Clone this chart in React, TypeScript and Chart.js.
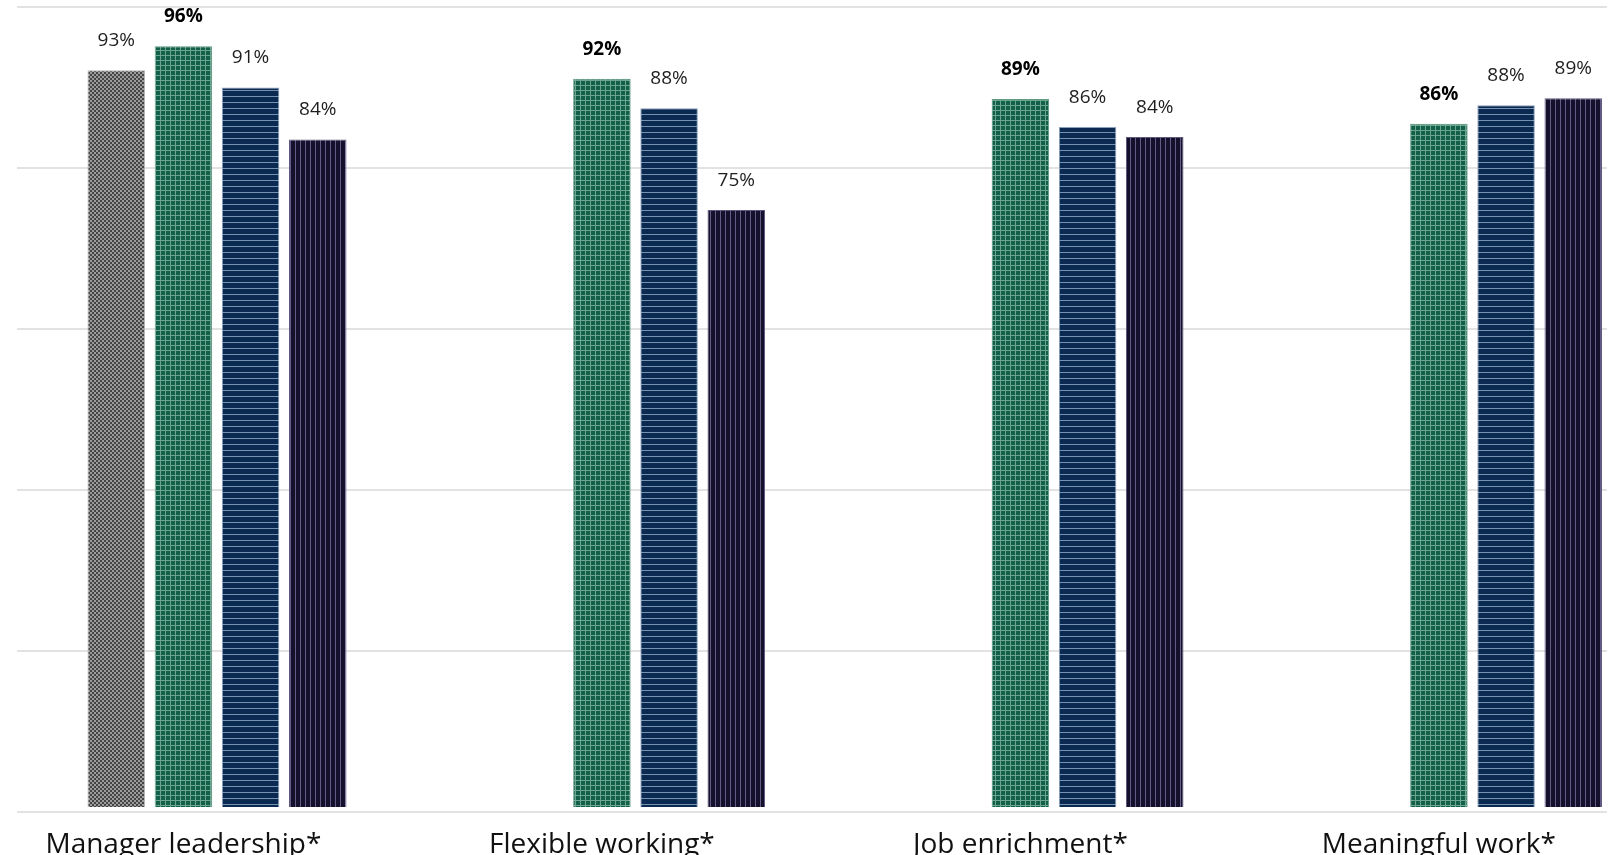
import React, { useEffect, useRef } from "react";
import { Chart, registerables } from "chart.js";

Chart.register(...registerables);

const categories = ["Manager leadership*", "Flexible working*", "Job enrichment*", "Meaningful work*"];
const seriesNames = ["Comparator", "Group A", "Group B", "Group C"];
const greyValues = [92.9, null, null, null];
const greenValues = [96.0, 91.8, 89.2, 86.0];
const blueValues = [90.7, 88.0, 85.6, 88.4];
const navyValues = [84.0, 74.9, 84.3, 89.3];
const boldSeries = [false, true, false, false];

function makePattern(kind: string): CanvasPattern | string {
  const c = document.createElement("canvas");
  const ctx = c.getContext("2d")!;
  if (kind === "grey") {
    c.width = 4; c.height = 4;
    ctx.fillStyle = "#9c9c9c"; ctx.fillRect(0, 0, 4, 4);
    ctx.fillStyle = "#444444"; ctx.fillRect(0, 0, 2, 2); ctx.fillRect(2, 2, 2, 2);
  } else if (kind === "green") {
    c.width = 5; c.height = 5;
    ctx.fillStyle = "#13604a"; ctx.fillRect(0, 0, 5, 5);
    ctx.fillStyle = "#6da68e"; ctx.fillRect(0, 0, 5, 1); ctx.fillRect(0, 0, 1, 5);
  } else if (kind === "blue") {
    c.width = 6; c.height = 6;
    ctx.fillStyle = "#0b2a52"; ctx.fillRect(0, 0, 6, 6);
    ctx.fillStyle = "#7690b0"; ctx.fillRect(0, 0, 6, 1);
  } else {
    c.width = 5; c.height = 5;
    ctx.fillStyle = "#15112d"; ctx.fillRect(0, 0, 5, 5);
    ctx.fillStyle = "#615d84"; ctx.fillRect(0, 0, 1, 5);
  }
  return ctx.createPattern(c, "repeat") || "#888";
}

const labelPlugin = {
  id: "valueLabels",
  afterDatasetsDraw(chart: any) {
    const ctx = chart.ctx;
    ctx.save();
    ctx.textAlign = "center";
    ctx.textBaseline = "alphabetic";
    chart.data.datasets.forEach((ds: any, di: number) => {
      const meta = chart.getDatasetMeta(di);
      meta.data.forEach((el: any, i: number) => {
        const v = ds.data[i]?.y;
        if (v === null || v === undefined) return;
        ctx.font = (boldSeries[di] ? "bold " : "") + "19px 'Open Sans'";
        ctx.fillStyle = boldSeries[di] ? "#000000" : "#1e1e1e";
        ctx.fillText(Math.round(v) + "%", el.x, el.y - 24);
      });
    });
    ctx.restore();
  },
};

export default function App() {
  const ref = useRef<HTMLCanvasElement>(null);
  useEffect(() => {
    if (!ref.current) return;
    const toPoints = (arr: (number | null)[]) => arr.map((v, i) => ({ x: i, y: v }));
    const kinds = ["grey", "green", "blue", "navy"];
    const borders = ["#b5b5b5", "#5f9981", "#8aa0bd", "#5d5980"];
    const values = [greyValues, greenValues, blueValues, navyValues];
    const chart = new Chart(ref.current, {
      type: "bar",
      data: {
        datasets: values.map((vals, k) => ({
          label: seriesNames[k],
          data: toPoints(vals) as any,
          backgroundColor: makePattern(kinds[k]) as any,
          borderColor: borders[k],
          borderWidth: 1,
          base: -2.04,
          categoryPercentage: 0.642,
          barPercentage: 0.856,
        })),
      },
      options: {
        animation: false,
        responsive: false,
        devicePixelRatio: 1,
        layout: { padding: { left: 17, right: 4, top: 7, bottom: 0 } },
        plugins: { legend: { display: false }, tooltip: { enabled: false } },
        scales: {
          x: {
            type: "linear",
            offset: false,
            min: -0.4779,
            max: 3.3214,
            grid: { display: false, drawTicks: false, offset: false },
            border: { display: false },
            afterBuildTicks: (scale: any) => {
              scale.ticks = categories.map((_, i) => ({ value: i }));
            },
            afterFit: (scale: any) => {
              scale.height = 43;
            },
            ticks: {
              autoSkip: false,
              maxRotation: 0,
              padding: 16,
              labelOffset: -33.6,
              color: "#111111",
              font: { family: "'Open Sans'", size: 28 },
              callback: (v: any) => (Number.isInteger(v) ? categories[v] : ""),
            },
          },
          y: {
            type: "linear",
            min: -2.68,
            max: 101.06,
            afterBuildTicks: (scale: any) => {
              const mn = -2.68, mx = 101.06;
              const t = [];
              for (let i = 0; i <= 5; i++) t.push({ value: mn + ((mx - mn) * i) / 5 });
              scale.ticks = t;
            },
            grid: { color: "#e2e2e2", lineWidth: 2, drawTicks: false },
            border: { display: false },
            ticks: { display: false },
          },
        },
      },
      plugins: [labelPlugin],
    });
    return () => chart.destroy();
  }, []);
  return (
    <div style={{ position: "absolute", left: 0, top: 0, width: 1611, height: 855, overflow: "hidden", background: "#fff" }}>
      <canvas ref={ref} width={1611} height={855} style={{ display: "block" }} />
    </div>
  );
}
